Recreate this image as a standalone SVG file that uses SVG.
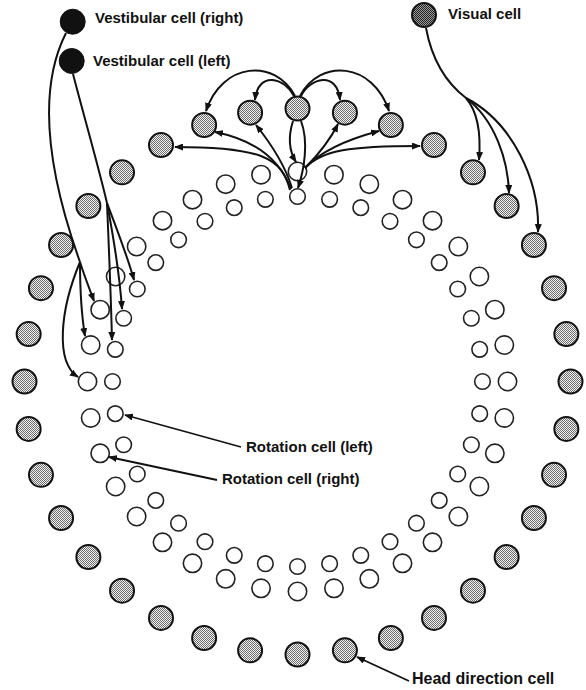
<svg xmlns="http://www.w3.org/2000/svg" width="586" height="690" viewBox="0 0 586 690">
<defs>
<pattern id="stip" width="2" height="2" patternUnits="userSpaceOnUse"><rect width="2" height="2" fill="#f4f4f4"/><rect width="1" height="1" fill="#6a6a6a"/><rect x="1" y="1" width="1" height="1" fill="#6a6a6a"/></pattern>
<pattern id="stipd" width="2" height="2" patternUnits="userSpaceOnUse"><rect width="2" height="2" fill="#9a9a9a"/><rect width="1" height="1" fill="#222"/><rect x="1" y="1" width="1" height="1" fill="#222"/></pattern>
<marker id="ah" markerUnits="userSpaceOnUse" markerWidth="9" markerHeight="7" refX="8" refY="3.5" orient="auto" viewBox="0 0 9 7"><path d="M0,0 L9,3.5 L0,7 z" fill="#111"/></marker>
<style>
.hd{fill:url(#stip);stroke:#111;stroke-width:2}
.vis{fill:url(#stipd);stroke:#111;stroke-width:2}
.vest{fill:#111;stroke:#111;stroke-width:1}
.ro{fill:#fff;stroke:#222;stroke-width:1.6}
.ri{fill:#fff;stroke:#222;stroke-width:1.6}
.lbl{font-family:"Liberation Sans",Arial,sans-serif;font-weight:bold;font-size:15px;fill:#111}
.c{fill:none;stroke:#111;stroke-width:2;marker-end:url(#ah)}
.t{fill:none;stroke:#111;stroke-width:2}
.p{fill:none;stroke:#111;stroke-width:1.8;marker-end:url(#ah)}
</style>
</defs>
<rect width="586" height="690" fill="#fff"/>

<!-- Head direction cells (outer ring) -->
<g id="hd0"><circle class="hd" cx="297.5" cy="108.5" r="12"/></g>
<g id="hd1"><circle class="hd" cx="344.91" cy="112.65" r="12"/></g>
<g id="hd2"><circle class="hd" cx="390.87" cy="124.96" r="12"/></g>
<g id="hd3"><circle class="hd" cx="434" cy="145.07" r="12"/></g>
<g id="hd4"><circle class="hd" cx="472.98" cy="172.37" r="12"/></g>
<g id="hd5"><circle class="hd" cx="506.63" cy="206.02" r="12"/></g>
<g id="hd6"><circle class="hd" cx="533.93" cy="245" r="12"/></g>
<g id="hd7"><circle class="hd" cx="554.04" cy="288.13" r="12"/></g>
<g id="hd8"><circle class="hd" cx="566.35" cy="334.09" r="12"/></g>
<g id="hd9"><circle class="hd" cx="570.5" cy="381.5" r="12"/></g>
<g id="hd10"><circle class="hd" cx="566.35" cy="428.91" r="12"/></g>
<g id="hd11"><circle class="hd" cx="554.04" cy="474.87" r="12"/></g>
<g id="hd12"><circle class="hd" cx="533.93" cy="518" r="12"/></g>
<g id="hd13"><circle class="hd" cx="506.63" cy="556.98" r="12"/></g>
<g id="hd14"><circle class="hd" cx="472.98" cy="590.63" r="12"/></g>
<g id="hd15"><circle class="hd" cx="434" cy="617.93" r="12"/></g>
<g id="hd16"><circle class="hd" cx="390.87" cy="638.04" r="12"/></g>
<g id="hd17"><circle class="hd" cx="344.91" cy="650.35" r="12"/></g>
<g id="hd18"><circle class="hd" cx="297.5" cy="654.5" r="12"/></g>
<g id="hd19"><circle class="hd" cx="250.09" cy="650.35" r="12"/></g>
<g id="hd20"><circle class="hd" cx="204.13" cy="638.04" r="12"/></g>
<g id="hd21"><circle class="hd" cx="161" cy="617.93" r="12"/></g>
<g id="hd22"><circle class="hd" cx="122.02" cy="590.63" r="12"/></g>
<g id="hd23"><circle class="hd" cx="88.37" cy="556.98" r="12"/></g>
<g id="hd24"><circle class="hd" cx="61.07" cy="518" r="12"/></g>
<g id="hd25"><circle class="hd" cx="40.96" cy="474.87" r="12"/></g>
<g id="hd26"><circle class="hd" cx="28.65" cy="428.91" r="12"/></g>
<g id="hd27"><circle class="hd" cx="24.5" cy="381.5" r="12"/></g>
<g id="hd28"><circle class="hd" cx="28.65" cy="334.09" r="12"/></g>
<g id="hd29"><circle class="hd" cx="40.96" cy="288.13" r="12"/></g>
<g id="hd30"><circle class="hd" cx="61.07" cy="245" r="12"/></g>
<g id="hd31"><circle class="hd" cx="88.37" cy="206.02" r="12"/></g>
<g id="hd32"><circle class="hd" cx="122.02" cy="172.37" r="12"/></g>
<g id="hd33"><circle class="hd" cx="161" cy="145.07" r="12"/></g>
<g id="hd34"><circle class="hd" cx="204.13" cy="124.96" r="12"/></g>
<g id="hd35"><circle class="hd" cx="250.09" cy="112.65" r="12"/></g>

<!-- Rotation cells (right) — middle ring -->
<g id="rr0"><circle class="ro" cx="297.5" cy="171.5" r="9.2"/></g>
<g id="rr1"><circle class="ro" cx="333.97" cy="174.69" r="9.2"/></g>
<g id="rr2"><circle class="ro" cx="369.32" cy="184.17" r="9.2"/></g>
<g id="rr3"><circle class="ro" cx="402.5" cy="199.63" r="9.2"/></g>
<g id="rr4"><circle class="ro" cx="432.49" cy="220.63" r="9.2"/></g>
<g id="rr5"><circle class="ro" cx="458.37" cy="246.51" r="9.2"/></g>
<g id="rr6"><circle class="ro" cx="479.37" cy="276.5" r="9.2"/></g>
<g id="rr7"><circle class="ro" cx="494.83" cy="309.68" r="9.2"/></g>
<g id="rr8"><circle class="ro" cx="504.31" cy="345.03" r="9.2"/></g>
<g id="rr9"><circle class="ro" cx="507.5" cy="381.5" r="9.2"/></g>
<g id="rr10"><circle class="ro" cx="504.31" cy="417.97" r="9.2"/></g>
<g id="rr11"><circle class="ro" cx="494.83" cy="453.32" r="9.2"/></g>
<g id="rr12"><circle class="ro" cx="479.37" cy="486.5" r="9.2"/></g>
<g id="rr13"><circle class="ro" cx="458.37" cy="516.49" r="9.2"/></g>
<g id="rr14"><circle class="ro" cx="432.49" cy="542.37" r="9.2"/></g>
<g id="rr15"><circle class="ro" cx="402.5" cy="563.37" r="9.2"/></g>
<g id="rr16"><circle class="ro" cx="369.32" cy="578.83" r="9.2"/></g>
<g id="rr17"><circle class="ro" cx="333.97" cy="588.31" r="9.2"/></g>
<g id="rr18"><circle class="ro" cx="297.5" cy="591.5" r="9.2"/></g>
<g id="rr19"><circle class="ro" cx="261.03" cy="588.31" r="9.2"/></g>
<g id="rr20"><circle class="ro" cx="225.68" cy="578.83" r="9.2"/></g>
<g id="rr21"><circle class="ro" cx="192.5" cy="563.37" r="9.2"/></g>
<g id="rr22"><circle class="ro" cx="162.51" cy="542.37" r="9.2"/></g>
<g id="rr23"><circle class="ro" cx="136.63" cy="516.49" r="9.2"/></g>
<g id="rr24"><circle class="ro" cx="115.63" cy="486.5" r="9.2"/></g>
<g id="rr25"><circle class="ro" cx="100.17" cy="453.32" r="9.2"/></g>
<g id="rr26"><circle class="ro" cx="90.69" cy="417.97" r="9.2"/></g>
<g id="rr27"><circle class="ro" cx="87.5" cy="381.5" r="9.2"/></g>
<g id="rr28"><circle class="ro" cx="90.69" cy="345.03" r="9.2"/></g>
<g id="rr29"><circle class="ro" cx="100.17" cy="309.68" r="9.2"/></g>
<g id="rr30"><circle class="ro" cx="115.63" cy="276.5" r="9.2"/></g>
<g id="rr31"><circle class="ro" cx="136.63" cy="246.51" r="9.2"/></g>
<g id="rr32"><circle class="ro" cx="162.51" cy="220.63" r="9.2"/></g>
<g id="rr33"><circle class="ro" cx="192.5" cy="199.63" r="9.2"/></g>
<g id="rr34"><circle class="ro" cx="225.68" cy="184.17" r="9.2"/></g>
<g id="rr35"><circle class="ro" cx="261.03" cy="174.69" r="9.2"/></g>

<!-- Rotation cells (left) — inner ring -->
<g id="rl0"><circle class="ri" cx="297.5" cy="196.5" r="7.8"/></g>
<g id="rl1"><circle class="ri" cx="329.63" cy="199.31" r="7.8"/></g>
<g id="rl2"><circle class="ri" cx="360.77" cy="207.66" r="7.8"/></g>
<g id="rl3"><circle class="ri" cx="390" cy="221.28" r="7.8"/></g>
<g id="rl4"><circle class="ri" cx="416.42" cy="239.78" r="7.8"/></g>
<g id="rl5"><circle class="ri" cx="439.22" cy="262.58" r="7.8"/></g>
<g id="rl6"><circle class="ri" cx="457.72" cy="289" r="7.8"/></g>
<g id="rl7"><circle class="ri" cx="471.34" cy="318.23" r="7.8"/></g>
<g id="rl8"><circle class="ri" cx="479.69" cy="349.37" r="7.8"/></g>
<g id="rl9"><circle class="ri" cx="482.5" cy="381.5" r="7.8"/></g>
<g id="rl10"><circle class="ri" cx="479.69" cy="413.63" r="7.8"/></g>
<g id="rl11"><circle class="ri" cx="471.34" cy="444.77" r="7.8"/></g>
<g id="rl12"><circle class="ri" cx="457.72" cy="474" r="7.8"/></g>
<g id="rl13"><circle class="ri" cx="439.22" cy="500.42" r="7.8"/></g>
<g id="rl14"><circle class="ri" cx="416.42" cy="523.22" r="7.8"/></g>
<g id="rl15"><circle class="ri" cx="390" cy="541.72" r="7.8"/></g>
<g id="rl16"><circle class="ri" cx="360.77" cy="555.34" r="7.8"/></g>
<g id="rl17"><circle class="ri" cx="329.63" cy="563.69" r="7.8"/></g>
<g id="rl18"><circle class="ri" cx="297.5" cy="566.5" r="7.8"/></g>
<g id="rl19"><circle class="ri" cx="265.37" cy="563.69" r="7.8"/></g>
<g id="rl20"><circle class="ri" cx="234.23" cy="555.34" r="7.8"/></g>
<g id="rl21"><circle class="ri" cx="205" cy="541.72" r="7.8"/></g>
<g id="rl22"><circle class="ri" cx="178.58" cy="523.22" r="7.8"/></g>
<g id="rl23"><circle class="ri" cx="155.78" cy="500.42" r="7.8"/></g>
<g id="rl24"><circle class="ri" cx="137.28" cy="474" r="7.8"/></g>
<g id="rl25"><circle class="ri" cx="123.66" cy="444.77" r="7.8"/></g>
<g id="rl26"><circle class="ri" cx="115.31" cy="413.63" r="7.8"/></g>
<g id="rl27"><circle class="ri" cx="112.5" cy="381.5" r="7.8"/></g>
<g id="rl28"><circle class="ri" cx="115.31" cy="349.37" r="7.8"/></g>
<g id="rl29"><circle class="ri" cx="123.66" cy="318.23" r="7.8"/></g>
<g id="rl30"><circle class="ri" cx="137.28" cy="289" r="7.8"/></g>
<g id="rl31"><circle class="ri" cx="155.78" cy="262.58" r="7.8"/></g>
<g id="rl32"><circle class="ri" cx="178.58" cy="239.78" r="7.8"/></g>
<g id="rl33"><circle class="ri" cx="205" cy="221.28" r="7.8"/></g>
<g id="rl34"><circle class="ri" cx="234.23" cy="207.66" r="7.8"/></g>
<g id="rl35"><circle class="ri" cx="265.37" cy="199.31" r="7.8"/></g>

<!-- Input cells -->
<g id="vest-right"><circle class="vest" cx="72.7" cy="21.7" r="12.5"/><text class="lbl" x="95" y="23">Vestibular cell (right)</text></g>
<g id="vest-left"><circle class="vest" cx="71.7" cy="61" r="12.5"/><text class="lbl" x="93" y="66">Vestibular cell (left)</text></g>
<g id="visual"><circle class="vis" cx="424" cy="15" r="12"/><text class="lbl" x="448" y="19">Visual cell</text></g>

<!-- Connectors -->
<g id="connectors">
  <!-- HD cell to neighbouring HD cells -->
  <path class="c" d="M295,96 C275,58 222,62 206,111"/>
  <path class="c" d="M294,96 C285,78 258,70 255,100"/>
  <path class="c" d="M301,96 C310,78 337,70 340,100"/>
  <path class="c" d="M300,96 C320,58 373,62 389,111"/>
  <!-- HD cell to rotation cells -->
  <path class="c" d="M293,121 C287,140 291,154 296,162"/>
  <path class="c" d="M301,121 C309,142 304,170 298,188"/>
  <!-- left rotation cell to HD cells on the left -->
  <path class="c" d="M290,190 C282,158 262,147 175,147"/>
  <path class="c" d="M291,189 C280,160 255,140 215,132"/>
  <path class="c" d="M292,188 C285,165 272,145 256,125"/>
  <!-- right rotation cell to HD cells on the right -->
  <path class="c" d="M305,168 C322,150 350,146 420,146"/>
  <path class="c" d="M305,168 C320,152 345,140 379,131"/>
  <path class="c" d="M305,168 C318,155 330,140 338,124"/>
  <!-- vestibular right -->
  <path class="t" d="M66,33 C32,100 56,195 80,262"/>
  <path class="c" d="M80,262 C85,278 90,290 94,301"/>
  <path class="c" d="M80,262 C80,290 82,318 85,336"/>
  <path class="c" d="M80,262 C60,310 55,362 78,377"/>
  <!-- vestibular left -->
  <path class="t" d="M73,74 C85,120 98,165 107,203"/>
  <path class="c" d="M107,203 C118,232 128,258 134,280"/>
  <path class="c" d="M107,203 C114,240 120,280 122,309"/>
  <path class="c" d="M107,203 C109,250 111,300 112,340"/>
  <!-- visual -->
  <path class="t" d="M426,28 C432,60 445,82 466,98"/>
  <path class="c" d="M466,98 C478,112 481,135 479,160"/>
  <path class="c" d="M466,98 C495,120 508,160 509,193"/>
  <path class="c" d="M466,98 C512,122 540,180 538,232"/>
  <!-- label pointers -->
  <path class="p" d="M241,447 L125,415"/>
  <path class="p" d="M217,480 L109,457"/>
  <path class="p" d="M409,681 L357,657"/>
</g>

<g id="labels">
  <text class="lbl" x="246" y="452">Rotation cell (left)</text>
  <text class="lbl" x="222" y="484">Rotation cell (right)</text>
  <text class="lbl" x="412" y="684" style="font-size:16px">Head direction cell</text>
</g>
</svg>
